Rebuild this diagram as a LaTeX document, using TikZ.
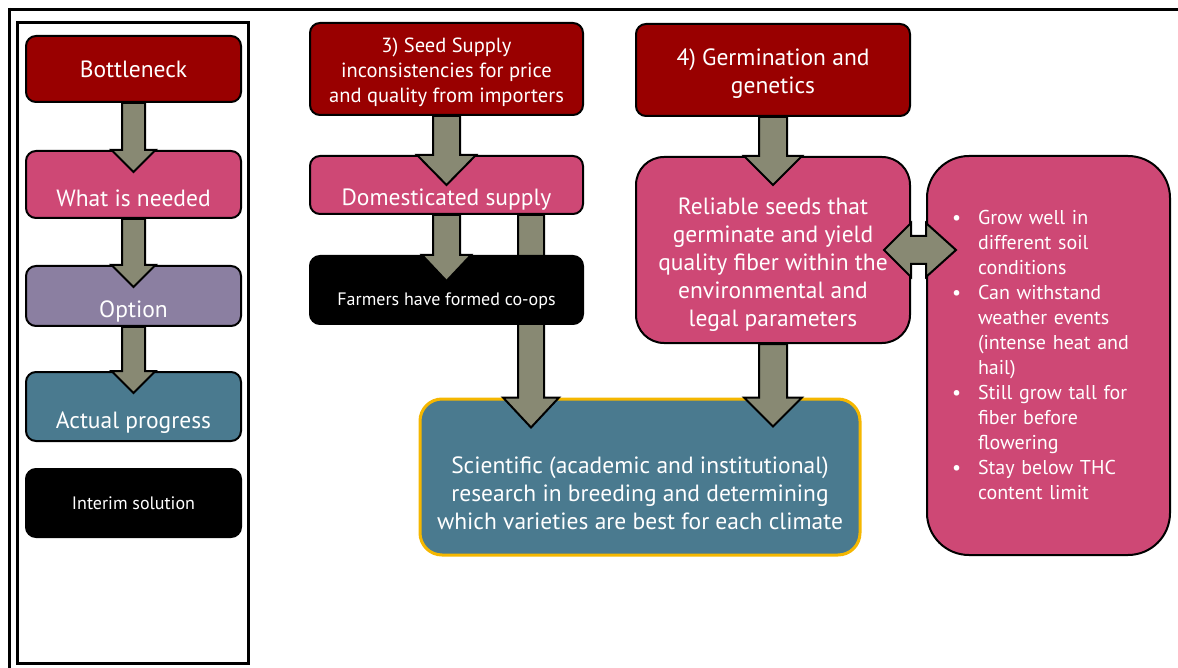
\documentclass[tikz,border=0pt]{standalone}
\usepackage{fontspec}
\setmainfont{PT Sans}
\usetikzlibrary{calc}

\definecolor{bneck}{RGB}{153,0,0}
\definecolor{needed}{RGB}{206,72,117}
\definecolor{option}{RGB}{139,127,161}
\definecolor{progress}{RGB}{74,122,143}
\definecolor{arrowfill}{RGB}{136,137,115}
\definecolor{gold}{RGB}{245,183,0}

% thick block arrow pointing down: from, to (head base), half shaft, half head, head length
\newcommand{\blockdown}[5]{%
  \draw[fatarrow] let \p1=(#1), \p2=(#2) in
    (\x1-#3pt,\y1) -- (\x1-#3pt,\y2) -- (\x1-#4pt,\y2) -- (\x1,\y2-#5pt)
    -- (\x1+#4pt,\y2) -- (\x1+#3pt,\y2) -- (\x1+#3pt,\y1) -- cycle;}

% bullet item for the traits box
\newcommand{\trait}[1]{\hangindent=26pt\hangafter=1\noindent
  \makebox[26pt][l]{\textbullet}#1\par}

\begin{document}
\begin{tikzpicture}[
    x=1pt, y=1pt,
    box/.style={draw=black, line width=2pt, rounded corners=10pt, text=white,
                align=center, font=\fontsize{23.5}{28}\selectfont},
    legend/.style={box, minimum width=215, inner sep=2pt},
    txt/.style={text=white, align=center, font=\fontsize{23.5}{28}\selectfont},
    small/.style={font=\fontsize{18}{20}\selectfont},
    fatarrow/.style={draw=black, line width=2pt, fill=arrowfill, line join=miter}
  ]
    \useasboundingbox (0,0) rectangle (1178,-668);

    % frame
    \draw[line width=3pt] (8,-9.5) -- (1178,-9.5);
    \draw[line width=3pt] (9.5,-8) -- (9.5,-668);
    \draw[line width=2.5pt] (17.5,-22.5) rectangle (248.5,-663.5);

    % legend
    \node[legend, fill=bneck, minimum height=66] (bott) at (133.5,-69) {Bottleneck};
    \node[legend, fill=needed, minimum height=67,
          label={[txt, yshift=-14]center:What is needed}] (need) at (133.5,-184.5) {};
    \node[legend, fill=option, minimum height=60,
          label={[txt, yshift=-15]center:Option}] (opt) at (133.5,-296) {};
    \node[legend, fill=progress, minimum height=69,
          label={[txt, yshift=-16]center:Actual progress}] (prog) at (133.5,-406.5) {};
    \node[legend, fill=black, minimum height=68, small] (interim) at (133.5,-503) {Interim solution};

    % seed supply branch
    \node[box, fill=bneck, minimum width=273, minimum height=92,
          label={[txt, yshift=-3, font=\fontsize{20.5}{25}\selectfont]center:3) Seed Supply\\inconsistencies for price\\and quality from importers}]
      (seed) at (446.5,-69) {};
    \node[box, fill=needed, minimum width=273, minimum height=58,
          label={[txt, yshift=-15]center:Domesticated supply}] (dom) at (446.5,-185) {};

    % germination branch
    \node[box, fill=bneck, minimum width=274, minimum height=92,
          label={[txt, yshift=-4]center:4) Germination and\\genetics}] (germ) at (773,-70) {};
    \node[box, fill=needed, minimum width=274, minimum height=186, rounded corners=28pt,
          label={[txt, yshift=-15]center:Reliable seeds that\\germinate and yield\\quality fiber within the\\environmental and\\legal parameters}]
      (rel) at (773,-250) {};
    \node[box, fill=needed, minimum width=243, minimum height=399, rounded corners=42pt,
          text width=193pt, align=left, inner xsep=0pt, font=\fontsize{20}{25}\selectfont]
      (traits) at (1048.5,-355.5)
      {\trait{Grow well in\newline different soil\newline conditions}%
       \trait{Can withstand\newline weather events\newline (intense heat and\newline hail)}%
       \trait{Still grow tall for\newline fiber before\newline flowering}%
       \trait{Stay below THC\newline content limit}};

    % research
    \node[box, fill=progress, draw=gold, line width=3pt, minimum width=440, minimum height=156,
          rounded corners=22pt,
          label={[txt, yshift=-16]center:Scientific (academic and institutional)\\research in breeding and determining\\which varieties are best for each climate}]
      (sci) at (640,-477) {};

    % arrows
    \foreach \a/\b in {bott/need, need/opt, opt/prog}
      \blockdown{\a.south}{\b.north}{11.5}{22}{22};
    \blockdown{seed.south}{dom.north}{13.5}{29.5}{30}
    \blockdown{$(dom.south east)+(-53,0)$}{sci.north}{13}{28}{30}

    % co-ops box sits over the long shaft
    \node[box, fill=black, minimum width=273, minimum height=68,
          label={[txt, small, yshift=-11]center:Farmers have formed co-ops}] (farm) at (446.5,-290) {};
    \blockdown{dom.south}{farm.north}{13.5}{24.5}{26}

    \blockdown{germ.south}{rel.north}{14}{29}{29}
    \blockdown{rel.south}{sci.north}{14}{29}{29}
    \draw[fatarrow] let \p1=(rel.east), \p2=(traits.west) in
      (\x1,\y1+14) -- (\x2,\y1+14) -- (\x2,\y1+27) -- (\x2+30,\y1) -- (\x2,\y1-27)
      -- (\x2,\y1-14) -- (\x1,\y1-14) -- (\x1,\y1-27) -- (\x1-27,\y1) -- (\x1,\y1+27) -- cycle;
\end{tikzpicture}
\end{document}
